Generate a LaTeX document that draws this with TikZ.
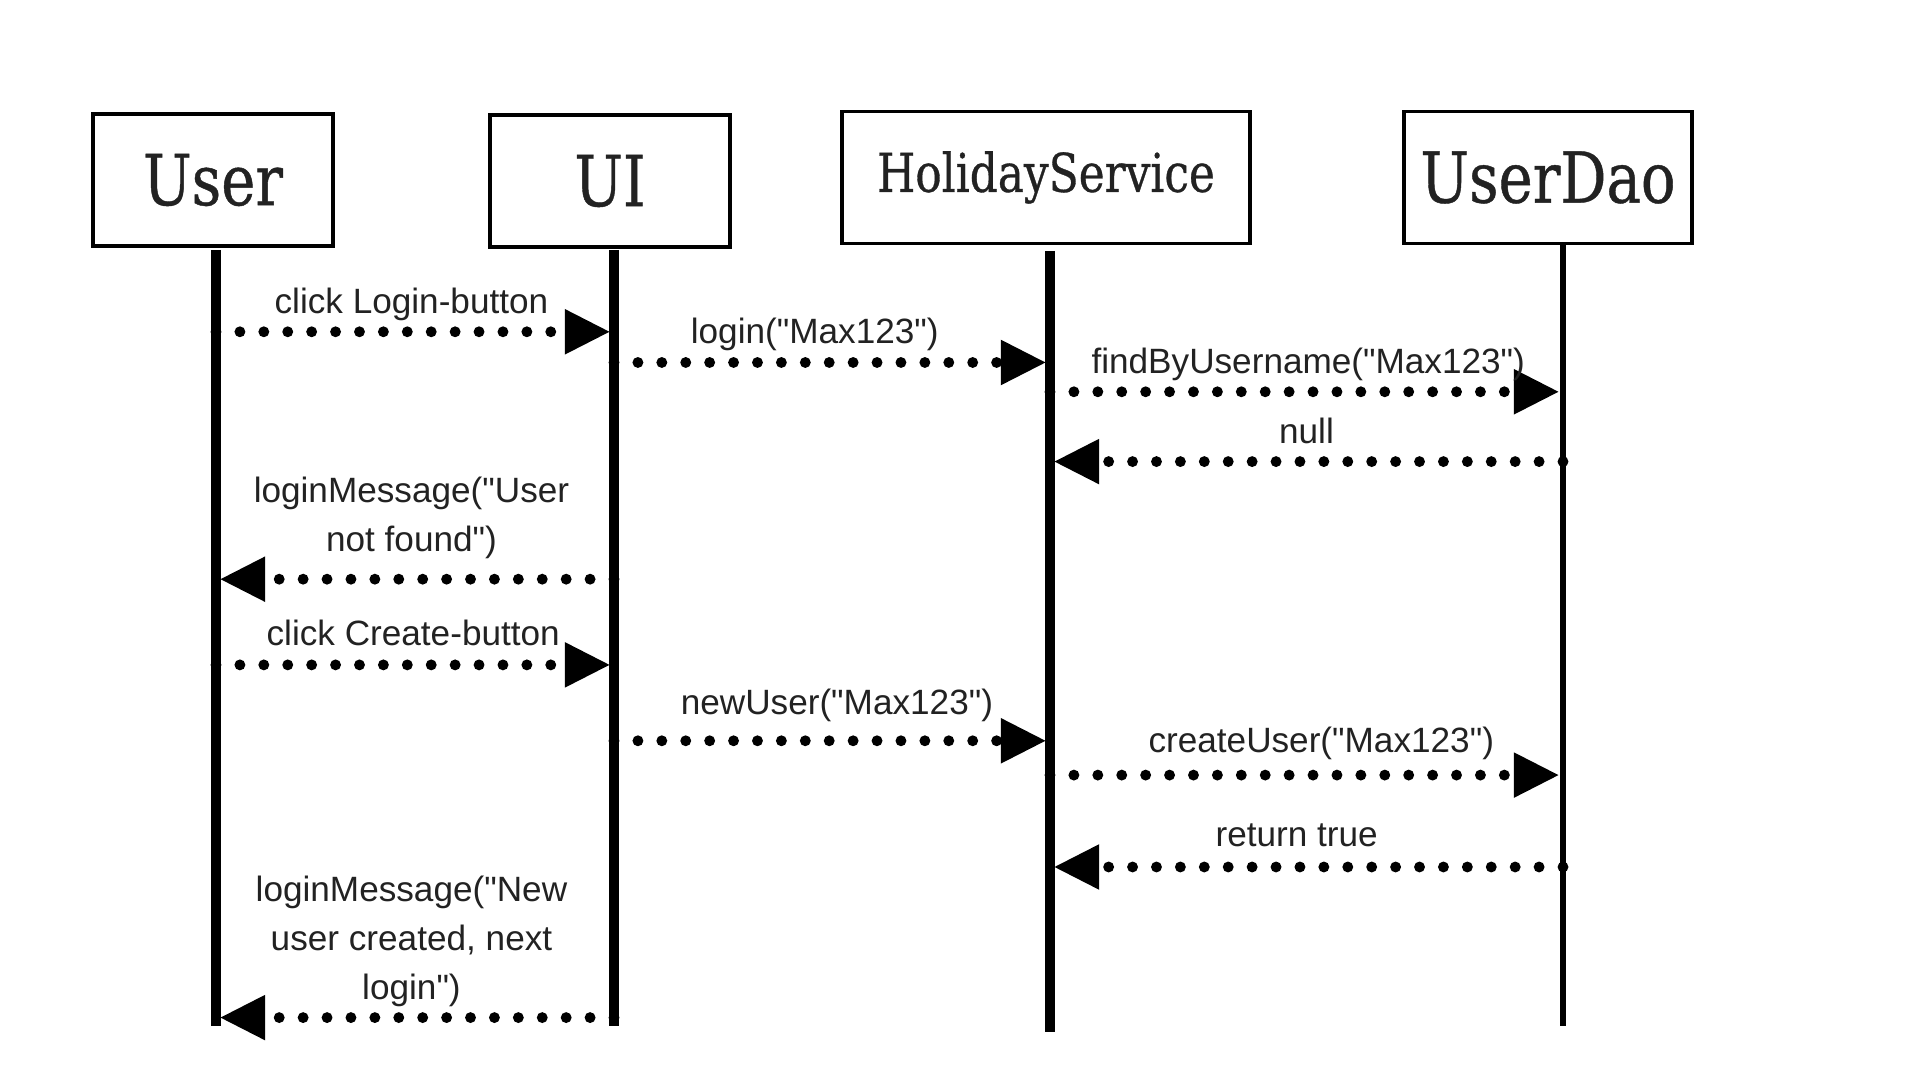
\documentclass[tikz,border=0pt]{standalone}
\usepackage{fontspec}
\setmainfont{Liberation Sans}[Ligatures=TeXOff]
\newfontfamily\headfont[FakeStretch=0.82,FakeBold=0.6]{DejaVu Serif}
\usetikzlibrary{arrows.meta}
\definecolor{ink}{HTML}{222222}
\tikzset{
  actor/.style={draw=black, line width=1.1pt, minimum height=1.32cm, text=ink},
  msg/.style={line width=3.1pt, line cap=round, dash pattern=on 0pt off 6.8pt,
    -{Triangle[length=13pt,width=12pt]}, shorten >=1pt},
  lbl/.style={text=ink, font=\fontsize{10}{14}\selectfont, align=center}
}

\begin{document}
\begin{tikzpicture}[x=0.01cm, y=-0.01cm]
  \useasboundingbox (0,0) rectangle (1920,1080);

  % participants
  \node[actor, minimum width=2.4cm, font=\headfont\fontsize{20}{24}\selectfont] (user) at (213,180) {User};
  \node[actor, minimum width=2.4cm, font=\headfont\fontsize{20}{24}\selectfont] (ui) at (610,181) {UI};
  \node[actor, minimum width=4.08cm, font=\headfont\fontsize{15.2}{18}\selectfont] (hs) at (1046,177.5) {HolidayService};
  \node[actor, minimum width=2.87cm, font=\headfont\fontsize{20}{24}\selectfont] (dao) at (1548,177.5) {UserDao};

  % lifelines
  \def \Lifes {
    user/216/250/1026/3.1pt,
    ui/614/250/1026/3.1pt,
    hs/1050/251/1032/3.1pt,
    dao/1563/245/1026/1.8pt}
  \foreach \id / \x / \top / \bot / \w in \Lifes {
    \coordinate (\id-top) at (\x,\top);
    \coordinate (\id-bot) at (\x,\bot);
    \draw[line width=\w] (\id-top) -- (\id-bot);
  }

  % messages
  \def \Messages {
    user/ui/331.8/-1pt/7.7pt/{click Login-button},
    ui/hs/362.5/-4.9pt/8.1pt/{login("Max123")},
    hs/dao/391.8/0.5pt/7.7pt/{findByUsername("Max123")},
    dao/hs/461.6/0pt/8.7pt/{null},
    ui/user/579.2/-1pt/17.5pt/{loginMessage("User\\not found")},
    user/ui/664.9/-0.5pt/9.1pt/{click Create-button},
    ui/hs/740.8/1.4pt/10.1pt/{newUser("Max123")},
    hs/dao/775.1/4.2pt/9.1pt/{createUser("Max123")},
    dao/hs/867/-2.8pt/9pt/{return true},
    ui/user/1017.6/-1pt/21.6pt/{loginMessage("New\\user created, next\\login")}}
  \foreach \from / \to / \y / \dx / \dy / \txt in \Messages {
    \draw[msg] (\from-top |- 0,\y) -- (\to-top |- 0,\y)
      node[lbl, midway, xshift=\dx, yshift=\dy] {\txt};
  }
\end{tikzpicture}
\end{document}
